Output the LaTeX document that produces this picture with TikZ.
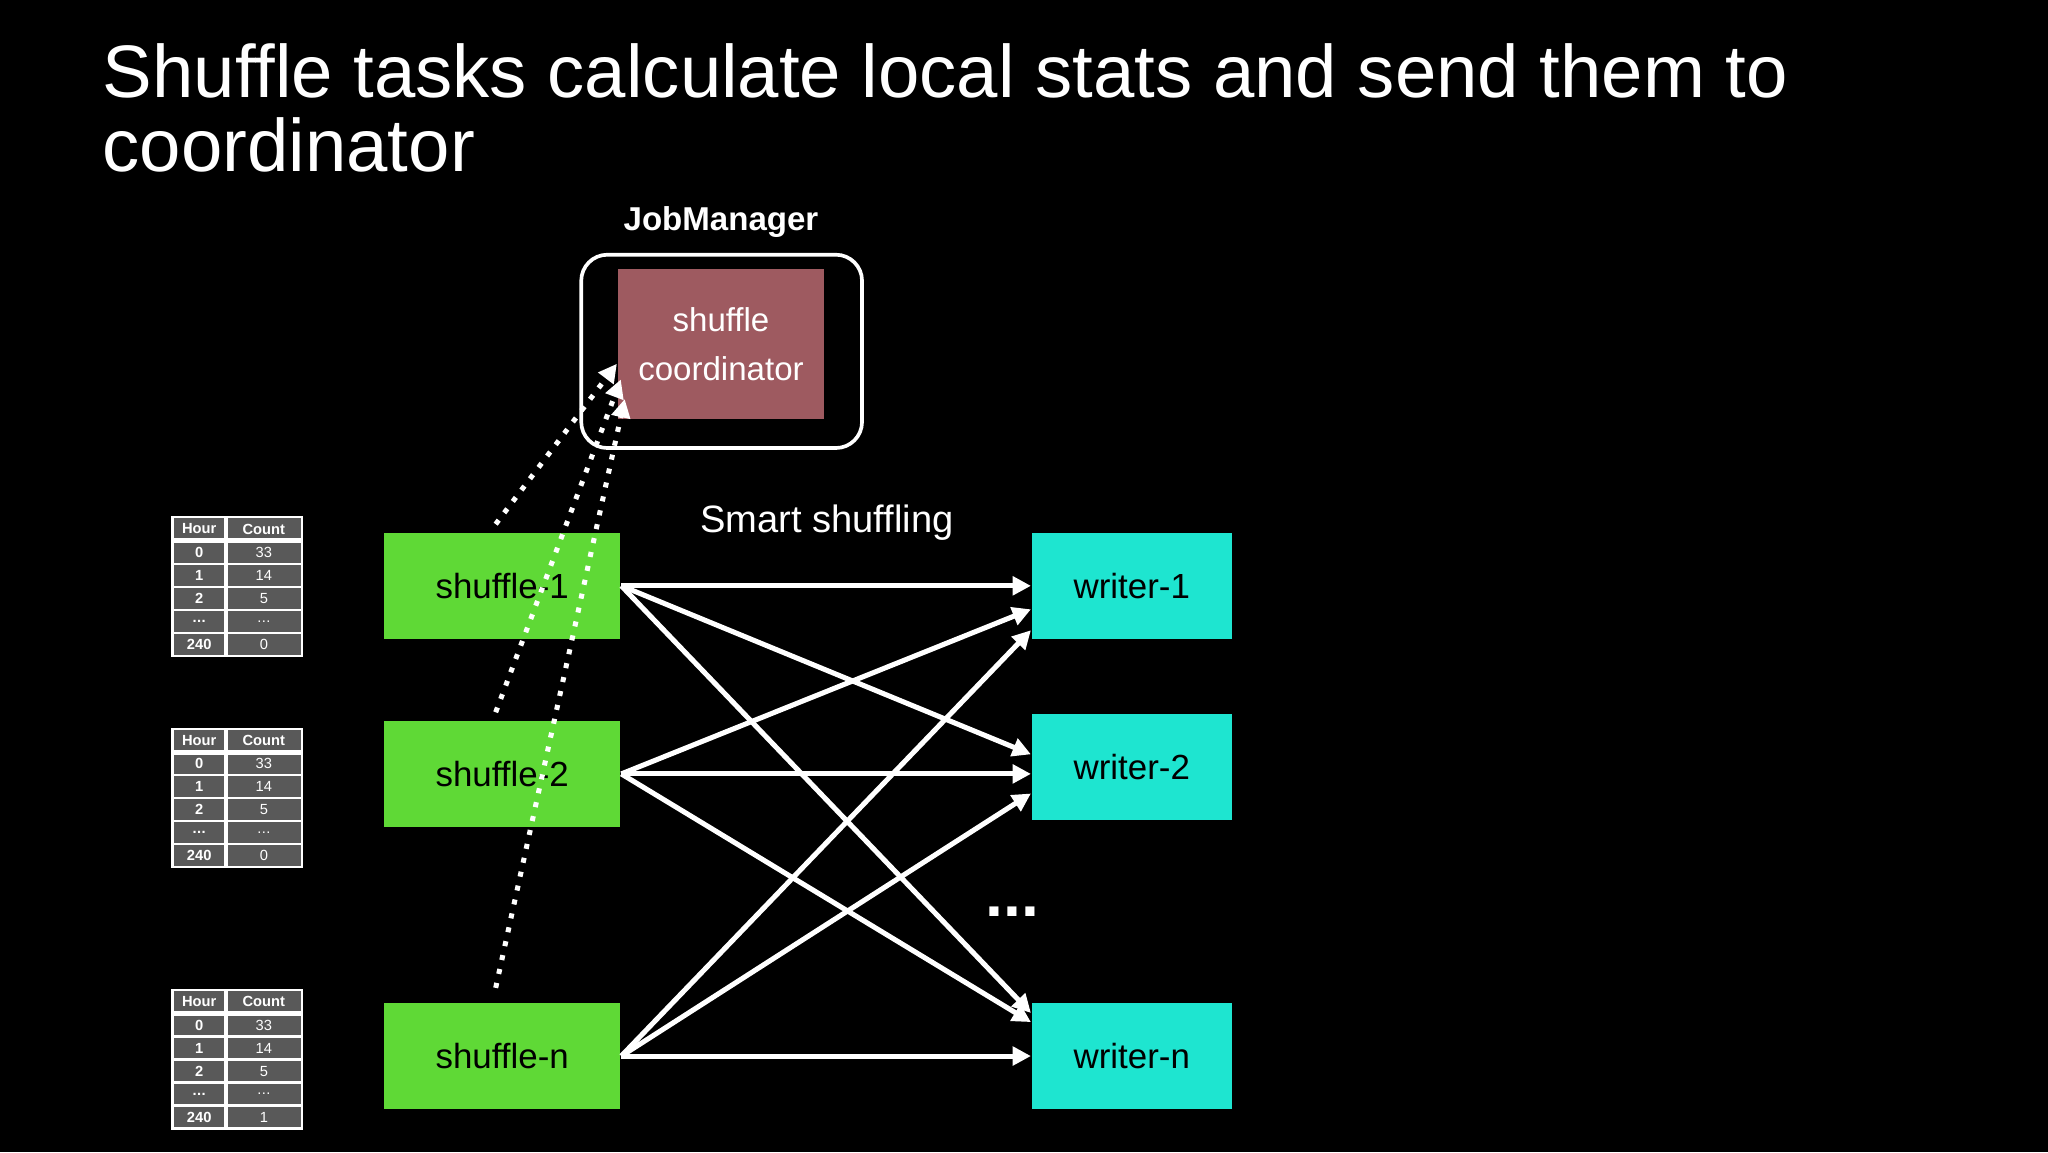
\documentclass[tikz,border=0pt]{standalone}
\usepackage{fontspec}
\setmainfont{Liberation Sans}
\usetikzlibrary{arrows.meta}
\usetikzlibrary{positioning}
\definecolor{coordred}{HTML}{9E5A60}
\definecolor{taskgreen}{HTML}{5FD936}
\definecolor{writercyan}{HTML}{1EE5D0}
\definecolor{tablegray}{HTML}{595959}
\newcommand{\tdots}{.\kern0.1pt.\kern0.1pt.}
\newcommand{\hourtable}[3]{%
\begin{scope}[shift={(#1,#2)}]
\fill[tablegray] (0,0) rectangle (0.99,-1.06);
\draw[white,line width=0.5pt] (0,0) rectangle (0.99,-1.06);
\draw[white,line width=1pt] (0,-0.18) -- (0.99,-0.18);
\draw[white,line width=1pt] (0.41,0) -- (0.41,-1.06);
\foreach \r in {1,...,4}
  \draw[white,line width=0.5pt] (0,-0.18-0.176*\r) -- (0.99,-0.18-0.176*\r);
\node[tabtext,font=\fontsize{3.2}{3.2}\selectfont\bfseries] at (0.205,-0.09) {Hour};
\node[tabtext,font=\fontsize{3.2}{3.2}\selectfont\bfseries] at (0.70,-0.09) {Count};
\foreach \h/\c [count=\i] in {0/33,1/14,2/5,\tdots/\tdots,240/#3} {
  \node[tabtext,font=\fontsize{3.2}{3.2}\selectfont\bfseries] at (0.205,-0.18-0.176*\i+0.088) {\h};
  \node[tabtext] at (0.70,-0.18-0.176*\i+0.088) {\c};
}
\end{scope}}
\begin{document}
\begin{tikzpicture}
\tikzset{task/.style={rectangle,fill=taskgreen,minimum width=1.81cm,minimum height=0.81cm,font=\fontsize{7.6}{8}\selectfont},
  writer/.style={rectangle,fill=writercyan,minimum width=1.53cm,minimum height=0.81cm,font=\fontsize{7.6}{8}\selectfont},
  tabtext/.style={text=white,inner sep=0pt,font=\fontsize{3.2}{3.2}\selectfont},
  shuf/.style={white,line width=1.1pt,-{Triangle[length=4pt,width=4pt]}},
  stat/.style={white,line width=1.1pt,dotted,-{Triangle[length=4pt,width=4pt]}}}
\fill[black] (0,0) rectangle (15.68,-8.82);
% title
\node[anchor=north west,text=white,align=left,font=\fontsize{16.2}{16}\selectfont,inner sep=0pt] (title) at (0.78,-0.33) {Shuffle tasks calculate local stats and send them to\\coordinator};
% job manager
\node[text=white,font=\fontsize{7.2}{8}\selectfont\bfseries] (jmlabel) at (5.52,-1.70) {JobManager};
\node[draw=white,line width=0.8pt,rounded corners=0.2cm,minimum width=2.15cm,minimum height=1.48cm] (jm) at (5.525,-2.69) {};
\node[fill=coordred,text=white,minimum width=1.58cm,minimum height=1.15cm,align=center,font=\fontsize{7.2}{10.5}\selectfont] (coord) at (5.52,-2.635) {shuffle\\coordinator};
% tasks
\node[task] (s1) at (3.845,-4.485) {shuffle-1};
\node[task] (s2) at (3.845,-5.925) {shuffle-2};
\node[task] (sn) at (3.845,-8.085) {shuffle-n};
\node[writer] (w1) at (8.665,-4.485) {writer-1};
\node[writer] (w2) at (8.665,-5.875) {writer-2};
\node[writer] (wn) at (8.665,-8.085) {writer-n};
\node[text=white,font=\fontsize{8.3}{9}\selectfont] (smart) at (6.33,-4.00) {Smart shuffling};
\node[text=white,font=\fontsize{14}{14}\selectfont\bfseries] (dots) at (7.75,-6.98) {\tdots};
% stats tables
\hourtable{1.32}{-3.96}{0}
\hourtable{1.32}{-5.58}{0}
\hourtable{1.32}{-7.58}{1}
% shuffle edges
\draw[shuf] (s1.east) -- (w1.west);
\draw[shuf] (s1.east) -- ([yshift=0.10cm]w2.west);
\draw[shuf] (s1.east) -- ([yshift=0.33cm]wn.west);
\draw[shuf] (s2.east) -- ([yshift=-0.18cm]w1.west);
\draw[shuf] (s2.east) -- ([yshift=-0.05cm]w2.west);
\draw[shuf] (s2.east) -- ([yshift=0.26cm]wn.west);
\draw[shuf] (sn.east) -- ([yshift=-0.34cm]w1.west);
\draw[shuf] (sn.east) -- ([yshift=-0.20cm]w2.west);
\draw[shuf] (sn.east) -- (wn.west);
% local stats
\draw[stat] ([xshift=-0.05cm,yshift=0.06cm]s1.north) -- ([yshift=-0.15cm]coord.west);
\draw[stat] ([xshift=-0.05cm,yshift=-1.38cm]s1.north) -- ([xshift=0.03cm,yshift=-0.27cm]coord.west);
\draw[stat] ([xshift=-0.05cm,yshift=0.11cm]sn.north) -- ([xshift=0.06cm,yshift=-0.42cm]coord.west);
\end{tikzpicture}
\end{document}
